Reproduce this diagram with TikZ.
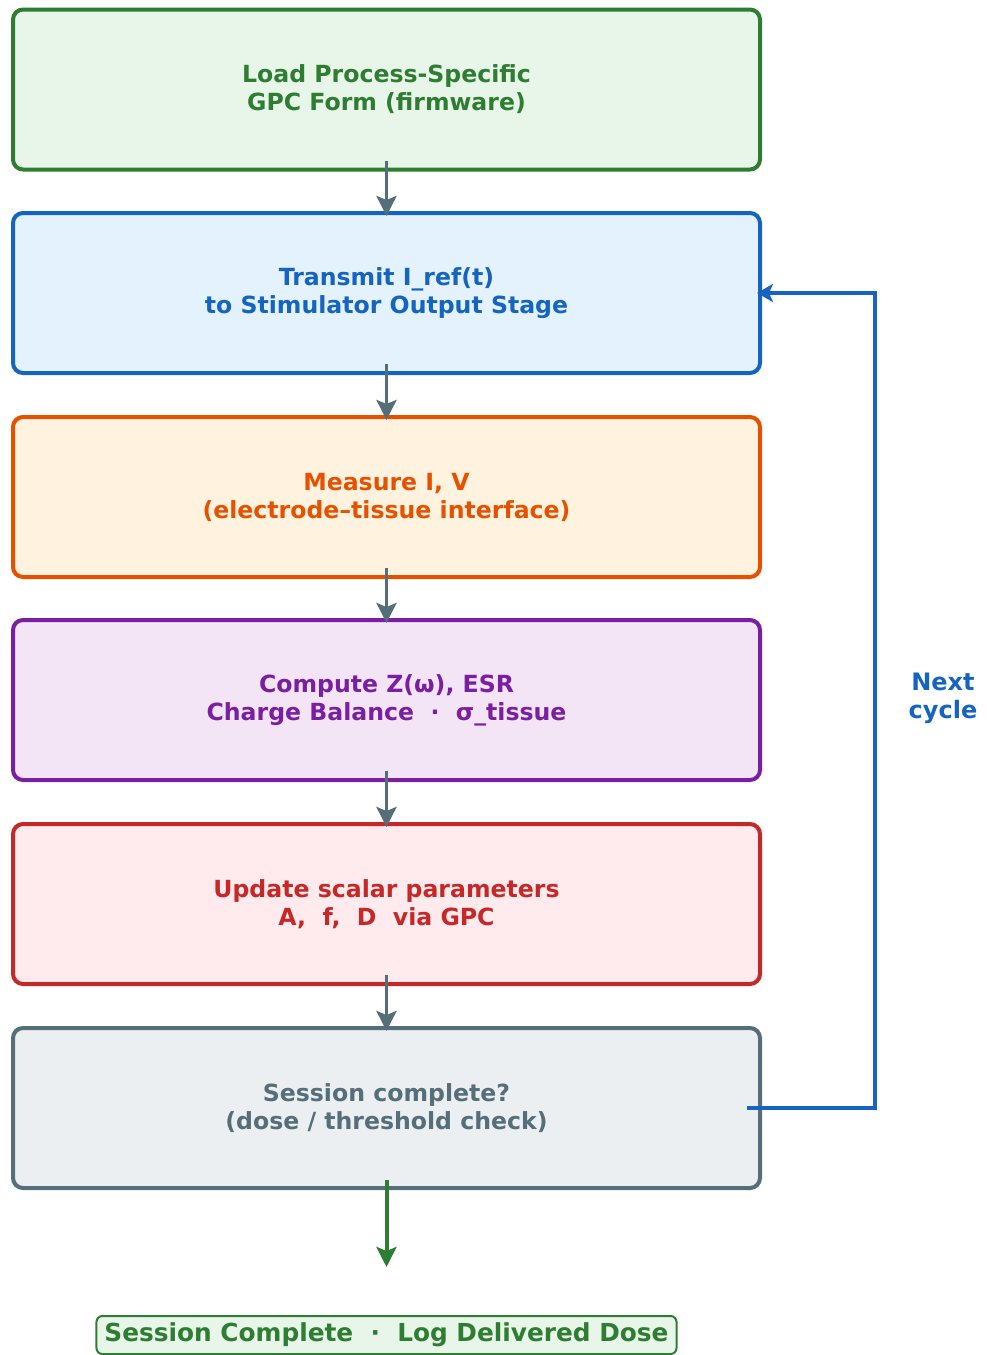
\documentclass[tikz,border=0pt]{standalone}
\usepackage{fontspec}
\setmainfont{DejaVu Sans}
\usepackage{tikz}
\usetikzlibrary{arrows.meta}
\definecolor{loadline}{HTML}{2E7D32}
\definecolor{loadfill}{HTML}{E8F5E9}
\definecolor{sendline}{HTML}{1565C0}
\definecolor{sendfill}{HTML}{E3F2FD}
\definecolor{measline}{HTML}{E65100}
\definecolor{measfill}{HTML}{FFF3E0}
\definecolor{compline}{HTML}{7B1FA2}
\definecolor{compfill}{HTML}{F3E5F5}
\definecolor{updline}{HTML}{C62828}
\definecolor{updfill}{HTML}{FFEBEE}
\definecolor{flowgray}{HTML}{546E7A}
\definecolor{checkfill}{HTML}{ECEFF1}

\begin{document}
\begin{tikzpicture}[x=0.5pt,y=-0.5pt,
  stage/.style={draw,line width=2pt,rounded corners=5pt,minimum width=373.5pt,minimum height=80pt,align=center,font=\fontsize{11.8}{14}\selectfont\bfseries},
  flow/.style={line width=1.8pt,flowgray,-{Stealth[length=10pt,width=10pt,inset=2pt]}},
  loopback/.style={line width=2pt,sendline,-{Stealth[length=8pt,width=9pt,inset=2pt]}}]
\useasboundingbox (0,0) rectangle (986,1355);

\node[stage,draw=loadline,fill=loadfill,text=loadline] (load) at (386.5,89.5) {Load Process-Specific\\GPC Form (firmware)};
\node[stage,draw=sendline,fill=sendfill,text=sendline] (send) at (386.5,293) {Transmit I\_ref(t)\\to Stimulator Output Stage};
\node[stage,draw=measline,fill=measfill,text=measline] (measure) at (386.5,497) {Measure I, V\\(electrode–tissue interface)};
\node[stage,draw=compline,fill=compfill,text=compline] (compute) at (386.5,700) {Compute Z(ω), ESR\\Charge Balance \ · \ σ\_tissue};
\node[stage,draw=updline,fill=updfill,text=updline] (update) at (386.5,904) {Update scalar parameters\\A, \ f, \ D \ via GPC};
\node[stage,draw=flowgray,fill=checkfill,text=flowgray] (check) at (386.5,1108) {Session complete?\\(dose / threshold check)};

\draw[flow] ([yshift=5.5pt]load.south) -- ([yshift=-2.5pt]send.north);
\draw[flow] ([yshift=5.5pt]send.south) -- ([yshift=-2.5pt]measure.north);
\draw[flow] ([yshift=5.5pt]measure.south) -- ([yshift=-2.5pt]compute.north);
\draw[flow] ([yshift=5.5pt]compute.south) -- ([yshift=-2.5pt]update.north);
\draw[flow] ([yshift=5.5pt]update.south) -- ([yshift=-2.5pt]check.north);

\coordinate (back) at (875,700);
\draw[loopback] ([xshift=-7.5pt]check.east) -| (back) |- ([xshift=-2.5pt]send.east);
\node[font=\fontsize{12}{14}\selectfont\bfseries,text=sendline,align=center] (next) at (943,698) {Next\\cycle};

\coordinate (stop) at (386.5,1267);
\draw[line width=2pt,loadline,-{Stealth[length=10pt,width=10pt,inset=2pt]}] ([yshift=5pt]check.south) -- (stop);
\node[draw=loadline,fill=loadfill,text=loadline,line width=1pt,rounded corners=3pt,minimum height=19pt,inner xsep=4pt,font=\fontsize{12.4}{14}\selectfont\bfseries] (done) at (386.5,1335) {Session Complete \ · \ Log Delivered Dose};

\end{tikzpicture}
\end{document}
